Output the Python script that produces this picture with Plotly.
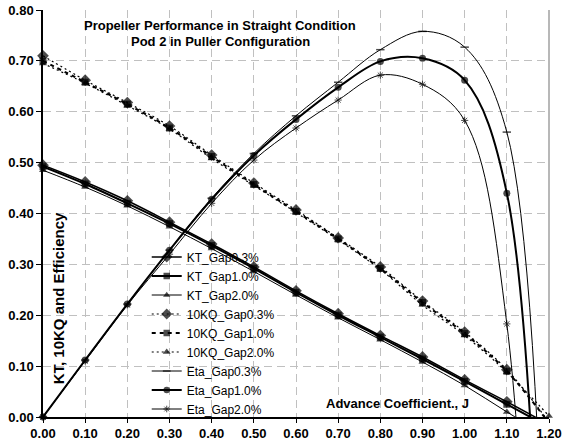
import plotly.graph_objects as go

J = [0.0, 0.1, 0.2, 0.3, 0.4, 0.5, 0.6, 0.7, 0.8, 0.9, 1.0, 1.1, 1.2]

kt_gap03 = [0.495, 0.462, 0.425, 0.383, 0.340, 0.295, 0.248, 0.203, 0.160, 0.118, 0.073, 0.030, -0.015]
kt_gap10 = [0.492, 0.458, 0.420, 0.380, 0.337, 0.292, 0.245, 0.200, 0.157, 0.114, 0.070, 0.025, -0.020]
kt_gap20 = [0.485, 0.452, 0.415, 0.374, 0.331, 0.286, 0.240, 0.195, 0.152, 0.108, 0.062, 0.010, -0.040]

kq10_gap03 = [0.710, 0.662, 0.618, 0.572, 0.515, 0.460, 0.407, 0.352, 0.295, 0.228, 0.167, 0.093, -0.010]
kq10_gap10 = [0.700, 0.658, 0.615, 0.568, 0.512, 0.457, 0.404, 0.350, 0.292, 0.225, 0.164, 0.090, -0.012]
kq10_gap20 = [0.695, 0.656, 0.612, 0.566, 0.508, 0.455, 0.402, 0.348, 0.290, 0.220, 0.160, 0.088, 0.002]

eta_gap03 = [0.0, 0.112, 0.222, 0.328, 0.430, 0.518, 0.592, 0.658, 0.722, 0.758, 0.727, 0.560, -0.68]
eta_gap10 = [0.0, 0.112, 0.222, 0.328, 0.428, 0.514, 0.585, 0.648, 0.699, 0.705, 0.662, 0.440, -1.00]
eta_gap20 = [0.0, 0.110, 0.220, 0.320, 0.420, 0.505, 0.568, 0.623, 0.672, 0.654, 0.583, 0.183, -1.60]

x_ticks = [0.0, 0.1, 0.2, 0.3, 0.4, 0.5, 0.6, 0.7, 0.8, 0.9, 1.0, 1.1, 1.2]
y_ticks = [0.0, 0.1, 0.2, 0.3, 0.4, 0.5, 0.6, 0.7, 0.8]

FONT = "Liberation Sans, Arial, sans-serif"

series = [
    ("KT_Gap0.3%", kt_gap03, dict(width=1.5, dash="solid"), "diamond", 9, 0),
    ("KT_Gap1.0%", kt_gap10, dict(width=2.0, dash="solid"), "square", 7, 0),
    ("KT_Gap2.0%", kt_gap20, dict(width=1.0, dash="solid"), "triangle-up", 7, 0),
    ("10KQ_Gap0.3%", kq10_gap03, dict(width=1.2, dash="2px,3px"), "diamond", 9, 0),
    ("10KQ_Gap1.0%", kq10_gap10, dict(width=2.0, dash="4px,4px"), "square", 7, 0),
    ("10KQ_Gap2.0%", kq10_gap20, dict(width=1.2, dash="2px,3px"), "triangle-up", 7, 0),
    ("Eta_Gap0.3%", eta_gap03, dict(width=1.0, dash="solid"), "line-ew", 6, 1.5),
    ("Eta_Gap1.0%", eta_gap10, dict(width=2.0, dash="solid"), "circle", 7, 0),
    ("Eta_Gap2.0%", eta_gap20, dict(width=1.0, dash="solid"), "asterisk", 6, 1.0),
]

fig = go.Figure()
for name, vals, line, sym, size, mlw in series:
    sizes = [size if v >= 0 else 0 for v in vals]
    fig.add_trace(go.Scatter(
        x=J, y=vals, name=name, mode="lines+markers",
        line=dict(color="black", shape="spline", smoothing=1.0, **line),
        marker=dict(symbol=sym, size=sizes, color="black",
                    line=dict(color="black", width=mlw)),
        cliponaxis=False,
    ))

fig.update_layout(
    width=563, height=448,
    margin=dict(l=43, r=14, t=10, b=31, autoexpand=False),
    paper_bgcolor="white", plot_bgcolor="white",
    font=dict(family=FONT, color="black"),
    showlegend=True,
    legend=dict(
        x=0.205, y=-0.016, xanchor="left", yanchor="bottom",
        bgcolor="rgba(255,255,255,0)", borderwidth=0,
        font=dict(family=FONT, size=12, color="black"),
        tracegroupgap=0, itemwidth=30,
    ),
    xaxis=dict(
        range=[0, 1.2], tickvals=x_ticks, ticktext=[f"{v:.2f}" for v in x_ticks],
        showgrid=True, gridcolor="#c0c0c0", gridwidth=1, griddash="8px,5px",
        showline=True, linecolor="black", linewidth=1.5,
        ticks="outside", ticklen=4, tickcolor="black",
        tickfont=dict(family=FONT, size=13, color="black", weight="bold"),
        zeroline=False, automargin=False, layer="below traces",
    ),
    yaxis=dict(
        range=[0, 0.8], tickvals=y_ticks, ticktext=[f"{v:.2f}" for v in y_ticks],
        showgrid=True, gridcolor="#c0c0c0", gridwidth=1, griddash="8px,5px",
        showline=True, linecolor="black", linewidth=1.5,
        ticks="outside", ticklen=5, tickcolor="black",
        tickfont=dict(family=FONT, size=13, color="black", weight="bold"),
        zeroline=False, automargin=False, layer="below traces",
    ),
    shapes=[
        dict(type="line", xref="paper", yref="paper", x0=1, x1=1, y0=0, y1=1,
             line=dict(color="#a0a0a0", width=1.5), layer="below"),
    ],
    annotations=[
        dict(text="<b>Propeller Performance in Straight Condition</b>", xref="paper", yref="paper",
             x=0.35, y=0.963, showarrow=False, xanchor="center", yanchor="middle",
             font=dict(family=FONT, size=13, color="black")),
        dict(text="<b>Pod 2 in Puller Configuration</b>", xref="paper", yref="paper",
             x=0.35, y=0.922, showarrow=False, xanchor="center", yanchor="middle",
             font=dict(family=FONT, size=13, color="black")),
        dict(text="<b>KT, 10KQ and Efficiency</b>", xref="paper", yref="paper",
             x=0.030, y=0.292, showarrow=False, textangle=-90,
             xanchor="center", yanchor="middle",
             font=dict(family=FONT, size=15, color="black")),
        dict(text="<b>Advance Coefficient., J</b>", xref="paper", yref="paper",
             x=0.70, y=0.034, showarrow=False, xanchor="center", yanchor="middle",
             font=dict(family=FONT, size=13, color="black")),
    ],
)

fig.write_html("out.html")
